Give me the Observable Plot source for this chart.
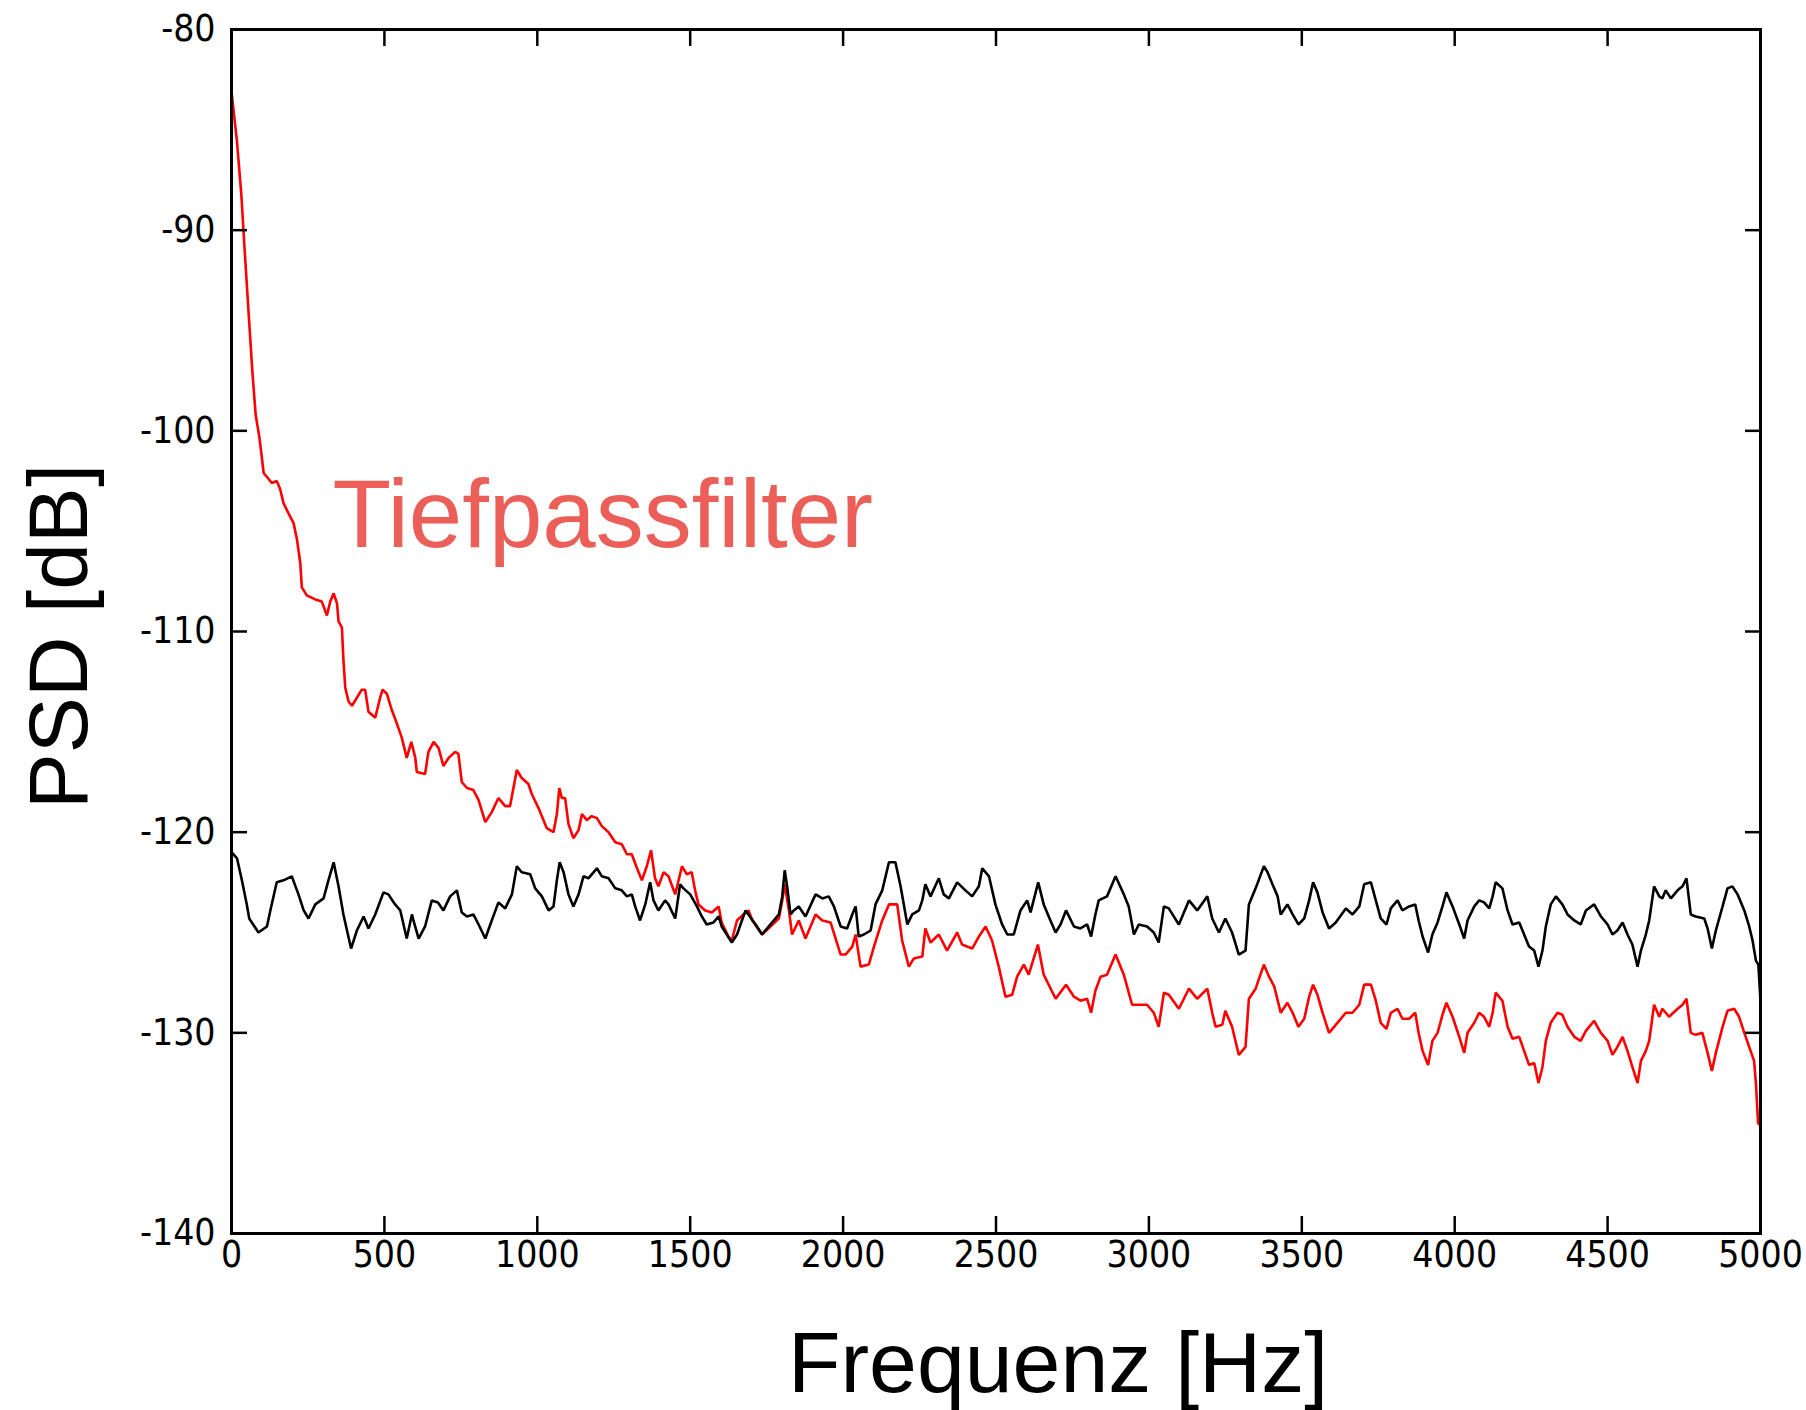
<!DOCTYPE html>
<html>
<head>
<meta charset="utf-8">
<script src="https://cdn.jsdelivr.net/npm/d3@7"></script>
<script src="https://cdn.jsdelivr.net/npm/@observablehq/plot@0.6"></script>
<style>
  html, body { margin: 0; padding: 0; background: #fff; }
</style>
</head>
<body>
<div id="chart"></div>
<script>
// [Frequenz Hz, PSD dB]
const unfiltered = [
  [0,-121.0],[18,-121.3],[34,-122.4],[50,-123.6],[58,-124.3],[88,-125.0],[116,-124.7],[127,-123.9],[148,-122.5],[170,-122.4],
  [197,-122.2],[219,-123.1],[236,-123.9],[252,-124.3],[274,-123.6],[301,-123.3],[317,-122.4],[334,-121.5],[350,-122.7],[366,-124.1],
  [391,-125.8],[410,-124.9],[432,-124.2],[448,-124.8],[470,-124.1],[497,-123.0],[513,-123.1],[535,-123.6],[552,-123.9],[573,-125.3],
  [590,-124.1],[595,-124.4],[612,-125.3],[633,-124.7],[655,-123.4],[675,-123.5],[693,-123.9],[715,-123.2],[737,-122.9],[753,-124.0],
  [770,-124.2],[791,-124.1],[808,-124.6],[830,-125.3],[851,-124.4],[873,-123.5],[895,-123.8],[917,-123.1],[933,-121.7],[949,-122.0],
  [977,-122.1],[993,-122.8],[1015,-123.2],[1037,-123.9],[1053,-123.7],[1064,-122.4],[1073,-121.5],[1086,-122.0],[1102,-123.1],[1118,-123.7],
  [1135,-123.1],[1151,-122.2],[1167,-122.3],[1195,-121.8],[1211,-122.2],[1233,-122.3],[1255,-122.8],[1276,-122.9],[1293,-123.2],[1309,-123.1],
  [1320,-123.7],[1336,-124.4],[1353,-123.6],[1369,-122.5],[1380,-123.4],[1396,-123.9],[1418,-123.4],[1429,-123.6],[1451,-124.3],[1467,-122.6],
  [1478,-122.8],[1500,-123.1],[1522,-123.7],[1538,-124.2],[1554,-124.6],[1576,-124.5],[1593,-124.2],[1603,-124.7],[1636,-125.5],[1653,-125.1],
  [1681,-123.9],[1714,-124.6],[1735,-125.1],[1790,-124.1],[1801,-123.2],[1809,-121.9],[1817,-122.7],[1828,-124.1],[1839,-123.9],[1855,-123.7],
  [1877,-124.2],[1910,-123.1],[1932,-123.3],[1953,-123.2],[1970,-123.7],[1992,-124.7],[2013,-124.8],[2030,-124.1],[2041,-123.7],[2051,-125.2],
  [2068,-125.1],[2090,-124.9],[2106,-123.6],[2128,-122.9],[2150,-121.5],[2171,-121.5],[2188,-122.7],[2210,-124.6],[2226,-124.1],[2248,-123.9],
  [2259,-123.4],[2269,-122.6],[2286,-123.2],[2313,-122.3],[2329,-123.1],[2346,-123.3],[2373,-122.5],[2400,-122.9],[2422,-123.2],[2444,-122.7],
  [2455,-121.8],[2477,-122.2],[2498,-123.6],[2520,-124.6],[2537,-125.1],[2558,-125.1],[2580,-123.9],[2602,-123.4],[2613,-124.0],[2638,-122.5],
  [2656,-123.6],[2678,-124.4],[2695,-125.0],[2711,-124.6],[2729,-123.9],[2755,-124.7],[2776,-124.8],[2798,-124.6],[2811,-125.2],[2825,-124.1],
  [2836,-123.4],[2863,-123.2],[2891,-122.2],[2918,-123.1],[2934,-123.7],[2951,-125.1],[2967,-124.6],[2994,-124.7],[3016,-125.0],[3032,-125.5],
  [3049,-123.7],[3065,-123.8],[3098,-124.6],[3131,-123.4],[3158,-123.9],[3191,-123.2],[3207,-124.3],[3229,-125.0],[3250,-124.3],[3272,-125.0],
  [3294,-126.1],[3316,-125.9],[3327,-123.6],[3349,-122.8],[3376,-121.7],[3388,-122.0],[3404,-122.6],[3421,-123.2],[3431,-124.1],[3453,-123.6],
  [3470,-124.1],[3489,-124.6],[3508,-124.3],[3524,-123.4],[3537,-122.5],[3551,-123.0],[3568,-124.0],[3589,-124.8],[3611,-124.5],[3644,-123.8],
  [3666,-124.1],[3688,-123.7],[3704,-122.6],[3726,-122.5],[3742,-123.4],[3758,-124.3],[3777,-124.6],[3791,-123.8],[3813,-123.4],[3829,-123.9],
  [3851,-123.7],[3871,-123.6],[3882,-124.4],[3895,-125.2],[3913,-126.0],[3927,-125.1],[3944,-124.5],[3960,-123.7],[3973,-123.0],[3993,-123.7],
  [4015,-124.6],[4031,-125.3],[4042,-124.4],[4064,-123.7],[4080,-123.4],[4096,-123.5],[4113,-123.8],[4124,-123.2],[4134,-122.5],[4156,-122.8],
  [4173,-123.9],[4189,-124.6],[4211,-124.5],[4227,-125.1],[4243,-125.7],[4260,-125.9],[4274,-126.7],[4287,-125.9],[4298,-124.7],[4314,-123.6],
  [4331,-123.2],[4352,-123.6],[4369,-124.1],[4391,-124.4],[4412,-124.6],[4429,-123.9],[4456,-123.6],[4478,-124.2],[4500,-124.6],[4516,-125.1],
  [4532,-124.9],[4549,-124.5],[4565,-125.1],[4581,-125.6],[4598,-126.7],[4609,-125.9],[4625,-125.1],[4636,-124.4],[4652,-122.7],[4669,-123.2],
  [4679,-123.3],[4690,-122.9],[4707,-123.3],[4729,-122.9],[4745,-122.7],[4758,-122.3],[4772,-124.1],[4788,-124.2],[4816,-124.3],[4827,-124.8],
  [4841,-125.8],[4854,-124.9],[4876,-123.7],[4892,-122.8],[4908,-122.7],[4925,-123.1],[4947,-123.9],[4963,-124.7],[4974,-125.4],[4985,-126.4],
  [4993,-126.6],[5000,-128.4]
];

const lowpass = [
  [0,-83.1],[18,-85.6],[32,-88.2],[43,-91.0],[55,-93.9],[68,-97.0],[79,-99.2],[91,-100.3],[99,-101.3],[105,-102.1],
  [116,-102.3],[132,-102.6],[148,-102.5],[159,-102.9],[170,-103.6],[186,-104.1],[203,-104.6],[214,-105.4],[225,-106.6],[230,-107.8],
  [246,-108.2],[274,-108.4],[295,-108.5],[312,-109.2],[323,-108.5],[334,-108.1],[345,-108.6],[350,-109.5],[361,-109.8],[366,-111.4],
  [372,-112.8],[383,-113.5],[394,-113.7],[410,-113.3],[426,-112.9],[437,-112.9],[448,-114.0],[470,-114.3],[486,-113.3],[494,-112.9],
  [508,-113.1],[524,-113.9],[541,-114.6],[557,-115.3],[573,-116.3],[588,-115.5],[601,-116.3],[606,-117.0],[633,-117.1],[644,-116.0],
  [661,-115.5],[677,-115.8],[693,-116.7],[710,-116.3],[731,-116.0],[742,-116.1],[753,-117.5],[770,-117.8],[791,-117.9],[808,-118.4],
  [830,-119.5],[851,-119.0],[873,-118.3],[895,-118.7],[911,-118.7],[922,-117.8],[933,-116.9],[949,-117.3],[971,-117.6],[982,-118.1],
  [1004,-118.8],[1031,-119.8],[1053,-120.0],[1064,-119.1],[1072,-117.8],[1080,-118.3],[1091,-118.3],[1102,-119.6],[1118,-120.3],[1135,-119.9],
  [1146,-119.1],[1162,-119.4],[1178,-119.2],[1195,-119.3],[1211,-119.7],[1233,-120.0],[1255,-120.5],[1276,-120.6],[1293,-121.1],[1309,-121.1],
  [1326,-121.8],[1342,-122.4],[1358,-121.7],[1372,-120.9],[1385,-122.3],[1396,-122.7],[1413,-122.0],[1429,-122.2],[1451,-123.1],[1473,-121.7],
  [1489,-122.1],[1505,-122.0],[1516,-122.9],[1527,-123.6],[1549,-123.9],[1571,-124.0],[1593,-123.7],[1603,-124.5],[1625,-125.2],[1636,-125.4],
  [1653,-124.4],[1674,-124.1],[1691,-123.9],[1703,-124.4],[1735,-125.1],[1790,-124.3],[1801,-123.4],[1809,-122.6],[1823,-123.9],[1833,-125.1],
  [1855,-124.4],[1877,-125.3],[1910,-124.1],[1932,-124.4],[1959,-124.5],[1992,-126.1],[2008,-126.1],[2030,-125.7],[2041,-125.1],[2057,-126.7],
  [2084,-126.6],[2101,-125.7],[2128,-124.4],[2150,-123.6],[2177,-123.6],[2193,-125.4],[2215,-126.7],[2231,-126.3],[2259,-126.2],[2269,-124.8],
  [2286,-125.5],[2313,-125.1],[2340,-125.9],[2373,-125.0],[2389,-125.6],[2422,-125.8],[2444,-125.2],[2466,-124.7],[2487,-125.4],[2509,-126.7],
  [2531,-128.2],[2553,-128.1],[2569,-127.2],[2591,-126.6],[2607,-127.1],[2637,-125.6],[2656,-127.1],[2695,-128.3],[2729,-127.6],[2755,-128.2],
  [2776,-128.4],[2798,-128.3],[2811,-129.0],[2825,-127.9],[2842,-127.2],[2863,-127.1],[2891,-126.1],[2918,-127.1],[2945,-128.6],[2962,-128.6],
  [2994,-128.6],[3016,-129.0],[3032,-129.7],[3049,-128.0],[3065,-128.1],[3098,-128.8],[3131,-127.8],[3158,-128.3],[3191,-127.8],[3207,-129.0],
  [3218,-129.7],[3240,-129.6],[3250,-128.9],[3272,-129.7],[3294,-131.1],[3316,-130.7],[3327,-128.3],[3349,-127.8],[3376,-126.6],[3393,-127.2],
  [3410,-127.7],[3431,-129.0],[3453,-128.5],[3470,-129.0],[3489,-129.7],[3508,-129.3],[3524,-128.2],[3537,-127.6],[3551,-128.1],[3568,-129.0],
  [3589,-130.0],[3611,-129.6],[3644,-129.0],[3666,-129.0],[3688,-128.6],[3704,-127.6],[3726,-127.6],[3742,-128.4],[3758,-129.5],[3777,-129.8],
  [3791,-129.0],[3813,-128.8],[3829,-129.3],[3851,-129.3],[3871,-129.0],[3882,-130.0],[3895,-130.9],[3913,-131.6],[3927,-130.4],[3944,-130.0],
  [3960,-129.1],[3973,-128.5],[3993,-129.2],[4015,-130.2],[4031,-131.0],[4042,-130.0],[4064,-129.5],[4080,-129.0],[4096,-129.2],[4113,-129.7],
  [4124,-129.0],[4134,-128.0],[4156,-128.4],[4173,-129.7],[4189,-130.3],[4211,-130.2],[4227,-130.9],[4243,-131.6],[4260,-131.5],[4274,-132.5],
  [4287,-131.7],[4298,-130.4],[4314,-129.5],[4336,-129.0],[4352,-129.1],[4369,-129.7],[4391,-130.2],[4412,-130.4],[4429,-129.9],[4456,-129.4],
  [4478,-130.0],[4500,-130.4],[4516,-131.1],[4532,-130.7],[4549,-130.2],[4565,-130.9],[4581,-131.7],[4598,-132.5],[4609,-131.4],[4625,-130.9],
  [4636,-130.4],[4652,-128.6],[4669,-129.2],[4679,-128.8],[4701,-129.2],[4729,-128.8],[4745,-128.6],[4758,-128.3],[4772,-130.0],[4788,-130.1],
  [4810,-130.0],[4827,-131.0],[4841,-131.9],[4854,-131.0],[4876,-129.7],[4892,-128.9],[4914,-128.8],[4930,-129.2],[4947,-130.0],[4963,-130.7],
  [4979,-131.4],[4985,-132.5],[4992,-134.5],[5000,-134.6]
];

const xTicks = [0, 500, 1000, 1500, 2000, 2500, 3000, 3500, 4000, 4500, 5000];
const yTicks = [-80, -90, -100, -110, -120, -130, -140];
const xLabel = "Frequenz [Hz]";
const yLabel = "PSD [dB]";
const annotationText = "Tiefpassfilter";

const tickFont = "'DejaVu Sans Condensed', 'Liberation Sans Narrow', 'Arial Narrow', sans-serif";
const bigFont = "'Liberation Sans', Helvetica, Arial, sans-serif";

const chart = Plot.plot({
  width: 1806,
  height: 1410,
  marginLeft: 231,
  marginRight: 46,
  marginTop: 29,
  marginBottom: 177,
  style: {background: "#fff", overflow: "visible"},
  x: {domain: [0, 5000]},
  y: {domain: [-140, -80]},
  marks: [
    Plot.line(lowpass, {x: d => d[0], y: d => d[1], stroke: "#ff0000", strokeWidth: 2.6, strokeLinejoin: "miter"}),
    Plot.line(unfiltered, {x: d => d[0], y: d => d[1], stroke: "#000000", strokeWidth: 2.6, strokeLinejoin: "miter"}),
    Plot.axisX(xTicks, {anchor: "bottom", tickSize: -17, tickPadding: 24, strokeWidth: 2.5, fontSize: 37, fontFamily: tickFont, tickFormat: d => String(d), label: null}),
    Plot.axisX(xTicks, {anchor: "top", tickSize: -16, strokeWidth: 2.5, tickFormat: () => "", label: null}),
    Plot.axisY(yTicks, {anchor: "left", tickSize: -16, tickPadding: 32, strokeWidth: 2.5, fontSize: 37, fontFamily: tickFont, tickFormat: d => String(d), label: null}),
    Plot.axisY(yTicks, {anchor: "right", tickSize: -16, strokeWidth: 2.5, tickFormat: () => "", label: null}),
    Plot.frame({stroke: "#000", strokeWidth: 3}),
    Plot.text([annotationText], {x: 330, y: -105.8, text: d => d, textAnchor: "start", lineAnchor: "bottom", fontSize: 96, fontFamily: bigFont, fill: "#ec5f59"}),
    Plot.text([xLabel], {frameAnchor: "bottom", text: d => d, textAnchor: "middle", dx: 62, dy: 158, lineAnchor: "bottom", fontSize: 86, fontFamily: bigFont, fill: "#000"}),
    Plot.text([yLabel], {frameAnchor: "left", text: d => d, textAnchor: "middle", rotate: -90, dx: -145, dy: 5, lineAnchor: "bottom", fontSize: 84, fontFamily: bigFont, fill: "#000"})
  ]
});

document.getElementById("chart").appendChild(chart);
</script>
</body>
</html>
